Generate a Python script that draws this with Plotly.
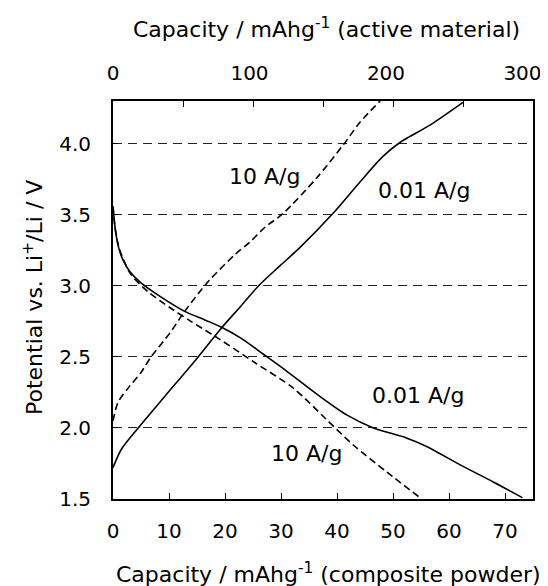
import plotly.graph_objects as go

# ---- data (capacity in mAh/g of composite powder, potential in V) ----
charge_001_cap = [0, 1.5, 4.5, 9.2, 14.8, 19.3, 22.9, 26.0, 29.8, 33.4, 39.3, 44.1, 48.2, 51.3, 56.6, 62.5]
charge_001_v = [1.72, 1.85, 2.0, 2.22, 2.48, 2.70, 2.86, 3.0, 3.14, 3.27, 3.51, 3.73, 3.91, 4.01, 4.13, 4.29]

charge_10_cap = [0, 0.9, 2.7, 5.0, 6.8, 10.2, 12.8, 17.0, 21.8, 24.5, 27.1, 30.4, 36.4, 41.1, 44.1, 47.7]
charge_10_v = [2.05, 2.18, 2.28, 2.39, 2.50, 2.67, 2.82, 3.03, 3.22, 3.31, 3.41, 3.51, 3.76, 3.99, 4.15, 4.30]

discharge_001_cap = [0, 0.4, 1.0, 1.8, 3.0, 5.0, 8.6, 12.8, 16.4, 19.3, 22.9, 26.8, 31.0, 37.0, 41.8, 46.5, 52.4, 56.0, 62.0, 67.9, 73.1]
discharge_001_v = [3.56, 3.40, 3.27, 3.18, 3.10, 3.02, 2.92, 2.82, 2.76, 2.71, 2.63, 2.52, 2.40, 2.22, 2.09, 2.0, 1.93, 1.87, 1.74, 1.62, 1.51]

discharge_10_cap = [0, 0.3, 0.8, 1.5, 3.2, 6.2, 10.4, 13.9, 18.8, 25.3, 32.2, 38.1, 42.9, 48.9, 54.8]
discharge_10_v = [3.56, 3.43, 3.31, 3.22, 3.08, 2.96, 2.84, 2.75, 2.63, 2.46, 2.28, 2.06, 1.88, 1.69, 1.51]

bottom_ticks = [0, 10, 20, 30, 40, 50, 60, 70]
top_tickvals = [0, 50, 100, 150, 200, 250, 300]
top_labelvals = [0, 100, 200, 300]
y_ticks = [1.5, 2.0, 2.5, 3.0, 3.5, 4.0]

labels = [
    ("10 A/g", 27.1, 3.77),
    ("0.01 A/g", 55.6, 3.67),
    ("0.01 A/g", 54.4, 2.225),
    ("10 A/g", 34.5, 1.82),
]

title_top = "Capacity / mAhg<sup>-1</sup> (active material)"
title_bottom = "Capacity / mAhg<sup>-1</sup> (composite powder)"
title_y = "Potential vs. Li<sup>+</sup>/Li / V"

FONT = "DejaVu Sans"
BLACK = "#000000"
# page body has an 8px margin, so the figure is 8px smaller than the window
W, H = 540, 578
ML, MR, MT, MB = 105, 15, 93, 87

fig = go.Figure()

def add(xs, ys, dash):
    fig.add_trace(go.Scatter(
        x=xs, y=ys, mode="lines",
        line=dict(color=BLACK, width=1.6, dash=dash, shape="spline", smoothing=0.8),
        showlegend=False, hoverinfo="skip"))

add(charge_001_cap, charge_001_v, "solid")
add(discharge_001_cap, discharge_001_v, "solid")
add(charge_10_cap, charge_10_v, "7px,4px")
add(discharge_10_cap, discharge_10_v, "7px,4px")

# helper (invisible) traces to attach the top axes
for xa in ("x2", "x3"):
    fig.add_trace(go.Scatter(x=[0, 300], y=[1.5, 1.5], xaxis=xa, mode="markers",
                             marker=dict(opacity=0), showlegend=False, hoverinfo="skip"))

for txt, x, y in labels:
    fig.add_annotation(x=x, y=y, text=txt, showarrow=False,
                       font=dict(family=FONT, size=22, color=BLACK))

pw = W - ML - MR
ph = H - MT - MB
def px_x(p):
    return (p - ML) / pw
def px_y(p):
    return (H - MB - p) / ph

fig.add_annotation(xref="paper", yref="paper", x=px_x(318), y=px_y(20), text=title_top,
                   showarrow=False, xanchor="center", yanchor="middle",
                   font=dict(family=FONT, size=22, color=BLACK))
fig.add_annotation(xref="paper", yref="paper", x=px_x(320), y=px_y(565), text=title_bottom,
                   showarrow=False, xanchor="center", yanchor="middle",
                   font=dict(family=FONT, size=22, color=BLACK))
fig.add_annotation(xref="paper", yref="paper", x=px_x(25), y=px_y(290), text=title_y,
                   showarrow=False, xanchor="center", yanchor="middle", textangle=-90,
                   font=dict(family=FONT, size=22, color=BLACK))

fig.update_layout(
    width=W, height=H,
    margin=dict(l=ML, r=MR, t=MT, b=MB),
    paper_bgcolor="white", plot_bgcolor="white",
    font=dict(family=FONT, size=20, color=BLACK),
    xaxis=dict(
        range=[0, 75], tickvals=bottom_ticks, ticks="inside", ticklen=6,
        tickcolor=BLACK, showgrid=False, zeroline=False, automargin=False,
        showline=True, linecolor=BLACK, linewidth=2,
        ticklabelstandoff=13,
        tickfont=dict(family=FONT, size=20),
    ),
    # top axis: tick marks and frame line
    xaxis2=dict(
        overlaying="x", side="top", anchor="y", automargin=False,
        range=[0, 300], tickvals=top_tickvals, showticklabels=False,
        ticks="inside", ticklen=6, tickcolor=BLACK,
        showgrid=False, zeroline=False,
        showline=True, linecolor=BLACK, linewidth=2,
    ),
    # top axis labels (placed as in the reference, last one pulled inside the edge)
    xaxis3=dict(
        overlaying="x", side="top", anchor="y", automargin=False,
        range=[0, 307.7], tickvals=top_labelvals, ticks="",
        showgrid=False, zeroline=False, showline=False,
        ticklabelstandoff=16,
        tickfont=dict(family=FONT, size=20),
    ),
    yaxis=dict(
        range=[1.5, 4.3], tickvals=y_ticks, tickformat=".1f", automargin=False,
        ticks="inside", ticklen=5, tickcolor=BLACK,
        showgrid=True, gridcolor="#222222", gridwidth=1, griddash="9px,6px",
        zeroline=False, showline=True, mirror=True, linecolor=BLACK, linewidth=2,
        ticklabelstandoff=16,
        tickfont=dict(family=FONT, size=20),
    ),
)

fig.write_html("out.html")
